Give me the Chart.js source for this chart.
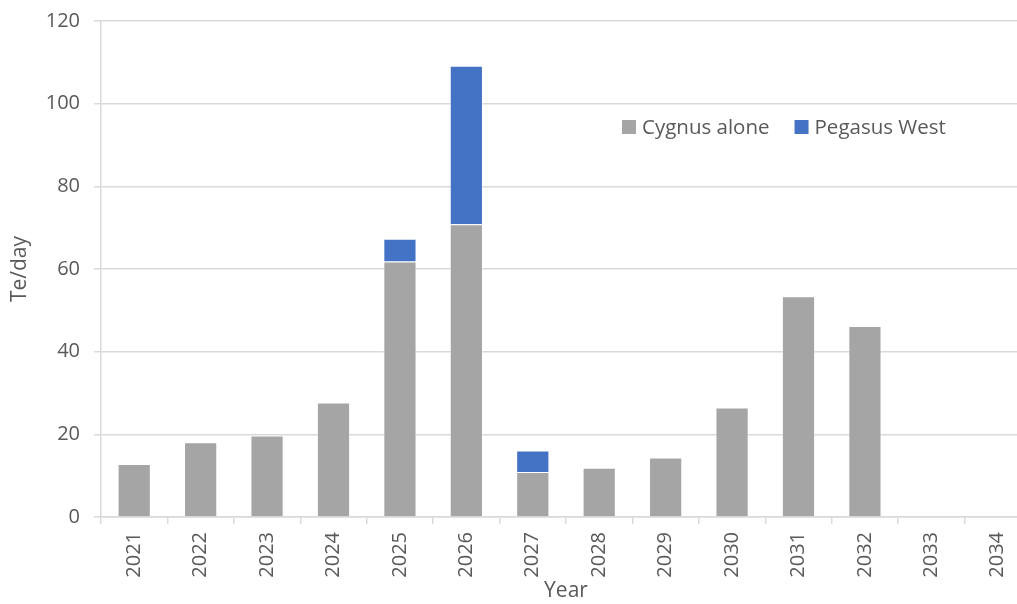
<!DOCTYPE html>
<html>
<head>
<meta charset="utf-8">
<script src="https://cdn.jsdelivr.net/npm/chart.js@4/dist/chart.umd.min.js"></script>
<style>
  html, body { margin: 0; padding: 0; background: #ffffff; overflow: hidden; }
  canvas { display: block; }
</style>
</head>
<body>
<canvas id="chart" width="1032" height="604"></canvas>
<script>
// Daily output by year, Te/day
const years = ['2021','2022','2023','2024','2025','2026','2027','2028','2029','2030','2031','2032','2033','2034'];
const cygnusAlone = [12.8, 18.1, 19.7, 27.7, 61.8, 70.8, 10.9, 11.9, 14.4, 26.5, 53.4, 46.2, 0, 0];
const pegasusWest = [0, 0, 0, 0, 5.5, 38.4, 5.2, 0, 0, 0, 0, 0, 0, 0];
const yTicks = [0, 20, 40, 60, 80, 100, 120];

const FONT = "'Open Sans', 'Noto Sans', sans-serif";
const TEXT = '#595959';
const GRID = '#d9d9d9';

// Legend drawn inside the plot area, to the upper right
const insideLegend = {
  id: 'insideLegend',
  afterDraw(chart) {
    const ctx = chart.ctx;
    const box = 14, gapText = 6, gapItem = 25;
    let x = 622;
    const y = 127;
    ctx.save();
    ctx.font = '20.5px ' + FONT;
    ctx.textBaseline = 'middle';
    ctx.textAlign = 'left';
    chart.data.datasets.forEach(ds => {
      ctx.fillStyle = ds.backgroundColor;
      ctx.fillRect(x, y - box / 2, box, box);
      x += box + gapText;
      ctx.fillStyle = TEXT;
      ctx.fillText(ds.label, x, y + 1);
      x += ctx.measureText(ds.label).width + gapItem;
    });
    ctx.restore();
  }
};

new Chart(document.getElementById('chart'), {
  type: 'bar',
  data: {
    labels: years,
    datasets: [
      { label: 'Cygnus alone', data: cygnusAlone, backgroundColor: '#a5a5a5',
        borderColor: 'rgba(255,255,255,0.35)', borderWidth: 1 },
      { label: 'Pegasus West', data: pegasusWest, backgroundColor: '#4472c4',
        borderColor: 'rgba(255,255,255,0.35)', borderWidth: 1 }
    ]
  },
  options: {
    responsive: false,
    animation: false,
    layout: { padding: { top: 21, right: 1, left: 0, bottom: 0 } },
    datasets: { bar: { categoryPercentage: 1.0, barPercentage: 0.5 } },
    plugins: {
      legend: { display: false },
      tooltip: { enabled: false }
    },
    scales: {
      x: {
        stacked: true,
        afterFit: s => { s.height = 87; },
        grid: { drawOnChartArea: false, drawTicks: true, tickLength: 7, color: GRID, lineWidth: 1.5 },
        border: { color: GRID, width: 1.5 },
        ticks: {
          autoSkip: false, minRotation: 90, maxRotation: 90, padding: 8,
          color: TEXT, font: { family: FONT, size: 20 }
        },
        title: {
          display: true, text: 'Year', color: TEXT,
          font: { family: FONT, size: 21 }, padding: { top: 0, bottom: 0 }
        }
      },
      y: {
        stacked: true,
        min: 0, max: 120,
        afterFit: s => { s.width = 101; s.paddingTop = 0; s.paddingBottom = 0; },
        afterBuildTicks: s => { s.ticks = yTicks.map(v => ({ value: v })); },
        grid: { color: GRID, lineWidth: 1.5, tickLength: 7 },
        border: { color: GRID, width: 1.5 },
        ticks: { padding: 14, color: TEXT, font: { family: FONT, size: 20 } },
        title: {
          display: true, text: 'Te/day', color: TEXT,
          font: { family: FONT, size: 21 }, padding: { top: 7, bottom: 0 }
        }
      }
    }
  },
  plugins: [insideLegend]
});
</script>
</body>
</html>
